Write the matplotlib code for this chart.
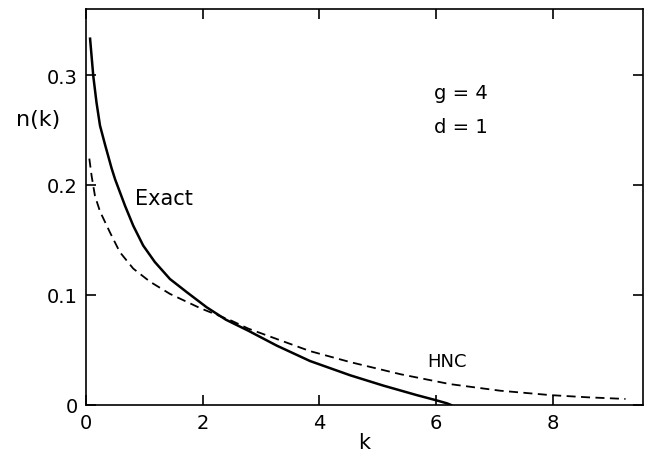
import numpy as np
import matplotlib.pyplot as plt

# curves
k_exact = [0.07, 0.125, 0.18, 0.24, 0.33, 0.44, 0.5, 0.67, 0.81, 0.98, 1.18, 1.44, 1.73,
           2.07, 2.4, 2.78, 3.27, 3.84, 4.53, 5.1, 5.67, 5.99, 6.19, 6.26]
n_exact = [0.333, 0.299, 0.275, 0.254, 0.236, 0.215, 0.205, 0.181, 0.163, 0.145, 0.130,
           0.1145, 0.1025, 0.0888, 0.0775, 0.0676, 0.054, 0.040, 0.027, 0.0176, 0.009,
           0.0045, 0.0015, 0.0]

k_hnc = [0.057, 0.097, 0.154, 0.24, 0.41, 0.58, 0.81, 1.1, 1.44, 1.96, 2.5, 2.78, 3.27,
         3.84, 4.53, 5.39, 6.24, 7.1, 7.96, 8.6, 9.25]
n_hnc = [0.224, 0.208, 0.19, 0.176, 0.157, 0.139, 0.124, 0.112, 0.101, 0.088, 0.0765,
         0.0695, 0.06, 0.049, 0.039, 0.028, 0.019, 0.013, 0.009, 0.007, 0.0055]

xticks = [0, 2, 4, 6, 8]
yticks = [0, 0.1, 0.2, 0.3]
ytick_labels = ["0", "0.1", "0.2", "0.3"]

plt.rcParams['font.family'] = ['DejaVu Sans']

fig = plt.figure(figsize=(6.5, 4.56), dpi=100)
ax = fig.add_axes([86 / 650, 1 - 406 / 456, (643 - 86) / 650, (406 - 10) / 456])

ax.plot(k_exact, n_exact, color='black', lw=1.8)
ax.plot(k_hnc, n_hnc, color='black', lw=1.3, ls=(0, (5, 3)))

ax.set_xlim(0, 9.55)
ax.set_ylim(0, 0.36)
ax.set_xticks(xticks)
ax.set_yticks(yticks)
ax.set_yticklabels(ytick_labels)
ax.tick_params(direction='in', top=True, right=True, length=7, width=1.2,
               labelsize=14, pad=6)
for s in ax.spines.values():
    s.set_linewidth(1.2)

ax.set_xlabel("k", fontsize=15, labelpad=0)
fig.text(38 / 650, 1 - 120 / 456, "n(k)", fontsize=16, ha='center', va='center')

ax.text(0.84, 0.188, "Exact", fontsize=15, ha='left', va='center')
ax.text(6.19, 0.04, "HNC", fontsize=13, ha='center', va='center')
ax.text(6.42, 0.284, "g = 4", fontsize=14, ha='center', va='center')
ax.text(6.42, 0.253, "d = 1", fontsize=14, ha='center', va='center')

fig.savefig("out.png", dpi=100)
